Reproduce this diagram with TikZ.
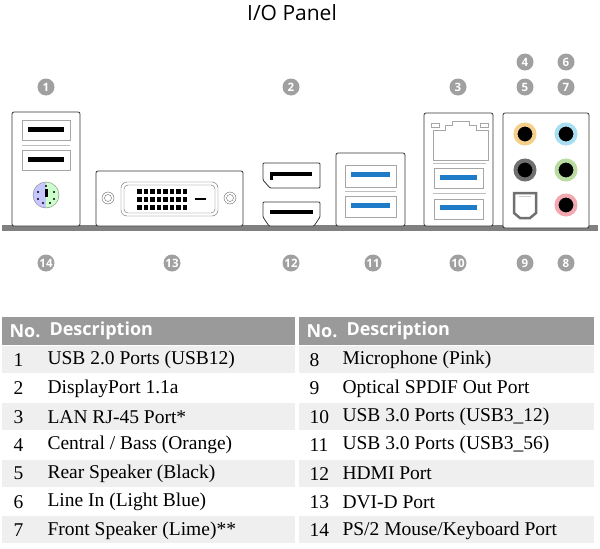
\documentclass[tikz,border=0pt]{standalone}
\usepackage{fontspec}
\setmainfont{Liberation Serif}
\setsansfont{Open Sans}
\usetikzlibrary{positioning}
\definecolor{badgegray}{HTML}{A0A0A0}
\definecolor{headgray}{HTML}{9A9A9A}
\definecolor{rowgray}{HTML}{EFEFEF}
\definecolor{usbblue}{HTML}{1E7BC8}
\definecolor{jackorange}{HTML}{F5D08A}
\definecolor{jackblue}{HTML}{A8DDF2}
\definecolor{jackgray}{HTML}{707070}
\definecolor{jackgreen}{HTML}{B8DCA0}
\definecolor{jackpink}{HTML}{F2A8B0}
\tikzset{badge/.style = {circle, fill=badgegray, text=white, inner sep=0pt,
           minimum size=17pt, font=\sffamily\bfseries\fontsize{11.5}{11.5}\selectfont},
         panel/.style = {draw=black!80, line width=0.8pt, fill=white, rounded corners=2pt},
         slot/.style = {draw=black!35, line width=0.7pt, fill=white},
         jack/.style = {circle, line width=4pt, fill=black, minimum size=19pt, inner sep=0pt},
         cell/.style = {font=\fontsize{19.5}{19.5}\selectfont, anchor=west},
         headcell/.style = {font=\sffamily\bfseries\fontsize{18}{18}\selectfont, text=white, anchor=west}}
\newcommand{\usbslot}[4]{% x1,y1,x2,y2
  \draw[slot] (#1,#2) rectangle (#3,#4);}
\begin{document}
\begin{tikzpicture}[x=1pt, y=-1pt]
  \useasboundingbox (0,0) rectangle (600,549);
  \node[font=\sffamily\fontsize{21}{21}\selectfont] (title) at (292,13) {I/O Panel};

  % base rail
  \fill[black!50] (2,225) rectangle (598,231);

  % PS/2 + USB 2.0
  \draw[panel] (12,112) rectangle (80,226);
  \usbslot{22}{120}{70}{140}
  \fill (28,127) rectangle (64,132);
  \draw[black!25] (22,145) -- (70,145);
  \usbslot{22}{150}{70}{170}
  \fill (28,157) rectangle (64,162);
  \fill[blue!22!white] (46,195) ++(90:13) arc (90:270:13) -- cycle;
  \fill[green!20!white] (46,195) ++(-90:13) arc (-90:90:13) -- cycle;
  \draw[black!50] (46,195) circle (13);
  \fill (45,189) rectangle (48,197);
  \foreach \px/\py in {38/192, 54/192, 38/199, 54/199, 43/203, 50/203, 46/186}
    \fill (\px,\py) circle (1.1);

  % DVI
  \draw[panel] (96,171) rectangle (243,226);
  \draw[black!60, rounded corners=6pt] (121,182) rectangle (218,216);
  \draw[black!60, rounded corners=4pt] (124,185) rectangle (215,213);
  \draw[black!60] (108,198) circle (6) (108,198) circle (3.5);
  \draw[black!60] (230,198) circle (6) (230,198) circle (3.5);
  \foreach \row in {0,1,2}
    \foreach \col in {0,...,7}
      \fill (137+\col*6.5,189+\row*8) rectangle ++(4.5,4.5);
  \fill (195,197.5) rectangle (206,199.5);

  % DisplayPort + HDMI
  \draw[panel, rounded corners=1pt] (263,163) -- (320,163) -- (320,188) -- (270,188)
    -- (263,180) -- cycle;
  \fill (270,172) rectangle (312,176);
  \fill (270,176) rectangle (273,180);
  \draw[panel, rounded corners=1pt] (263,202) -- (320,202) -- (320,217) -- (314,226)
    -- (269,226) -- (263,217) -- cycle;
  \fill (270,210) rectangle (313,214);

  % USB 3.0 (11)
  \draw[panel] (336,153) rectangle (405,226);
  \usbslot{345}{165}{396}{187}
  \fill[usbblue] (351,172) rectangle (390,177);
  \draw[black!25] (345,191) -- (396,191);
  \usbslot{345}{196}{396}{217}
  \fill[usbblue] (351,203) rectangle (390,208);

  % LAN + USB 3.0 (10)
  \draw[panel] (424,113) rectangle (493,226);
  \draw[black!35, line width=0.7pt] (433,160) -- (433,130) -- (445,130) -- (445,125) -- (452,125)
    -- (452,121) -- (469,121) -- (469,125) -- (476,125) -- (476,130) -- (488,130) -- (488,160) -- cycle;
  \draw[black!35] (431,123) rectangle (439,127) (480,123) rectangle (488,127);
  \draw[black!25] (433,163) -- (486,163);
  \usbslot{434}{168}{483}{188}
  \fill[usbblue] (440,175) rectangle (477,180);
  \draw[black!25] (433,193) -- (486,193);
  \usbslot{434}{199}{483}{219}
  \fill[usbblue] (440,205) rectangle (477,210);

  % audio
  \draw[panel] (503,113) rectangle (589,228);
  \node[jack, draw=jackorange] (jackC) at (525,134) {};
  \node[jack, draw=jackblue]   (jackL) at (566,134) {};
  \node[jack, draw=jackgray]   (jackR) at (525,170) {};
  \node[jack, draw=jackgreen]  (jackF) at (566,170) {};
  \node[jack, draw=jackpink]   (jackM) at (566,205) {};
  \draw[jackgray, line width=2.5pt] (514,193) -- (514,213) -- (520,218) -- (530,218) -- (536,213)
    -- (536,193) -- cycle;
  \draw[black!20, line width=0.6pt] (519,196) -- (531,196);

  % badges
  \node[badge] (b1) at (46,87) {1};
  \node[badge] (b2) at (291,87) {2};
  \node[badge] (b3) at (458,87) {3};
  \node[badge] (b4) at (525,62) {4};
  \node[badge] (b6) at (566,62) {6};
  \node[badge] (b5) at (525,87) {5};
  \node[badge] (b7) at (566,87) {7};
  \node[badge] (b14) at (46,263) {14};
  \node[badge] (b13) at (172,263) {13};
  \node[badge] (b12) at (291,263) {12};
  \node[badge] (b11) at (373,263) {11};
  \node[badge] (b10) at (458,263) {10};
  \node[badge] (b9) at (525,263) {9};
  \node[badge] (b8) at (566,263) {8};

  % table
  \foreach \tx/\tw in {2/293, 299/295} {
    \fill[headgray] (\tx,317) rectangle ++(\tw,28);
    \foreach \r in {0,2,4,6}
      \fill[rowgray] (\tx,346+\r*28.4) rectangle ++(\tw,27);
    \node[headcell] at (\tx+4,331) {No.};
    \node[headcell] at (\tx+44,331) {Description};
  }
  \foreach \n/\txt [count=\r from 0] in {
      1/{USB 2.0 Ports (USB12)},
      2/{DisplayPort 1.1a},
      3/{LAN RJ-45 Port*},
      4/{Central / Bass (Orange)},
      5/{Rear Speaker (Black)},
      6/{Line In (Light Blue)},
      7/{Front Speaker (Lime)**}} {
    \node[cell] at (10,360+\r*28.4) {\n};
    \node[cell] at (44,360+\r*28.4) {\txt};
  }
  \foreach \n/\txt [count=\r from 0] in {
      8/{Microphone (Pink)},
      9/{Optical SPDIF Out Port},
      10/{USB 3.0 Ports (USB3\_12)},
      11/{USB 3.0 Ports (USB3\_56)},
      12/{HDMI Port},
      13/{DVI-D Port},
      14/{PS/2 Mouse/Keyboard Port}} {
    \node[cell] at (306,360+\r*28.4) {\n};
    \node[cell] at (339,360+\r*28.4) {\txt};
  }
\end{tikzpicture}
\end{document}
